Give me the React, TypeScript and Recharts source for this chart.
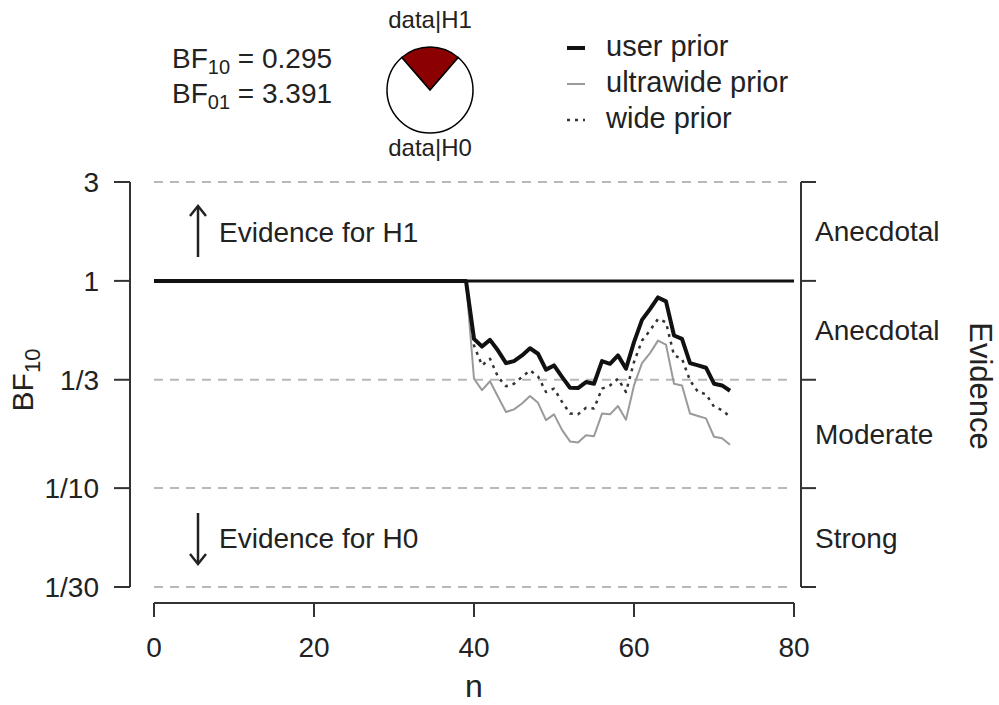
import React from 'react';
import { LineChart, Line, XAxis, YAxis, ReferenceLine, Legend, Label, PieChart, Pie, Cell } from 'recharts';

const FONT = '"Liberation Sans", Arial, Helvetica, sans-serif';
const TEXT = '#222';
const AXIS = '#333';

// ---- data ----
const sampleSizes = [0, 39, 40, 41, 42, 43, 44, 45, 46, 47, 48, 49, 50, 51, 52, 53, 54, 55, 56, 57, 58, 59, 60, 61, 62, 63, 64, 65, 66, 67, 68, 69, 70, 71, 72];
const userPrior = [1, 1, 0.525, 0.482, 0.519, 0.461, 0.401, 0.41, 0.437, 0.473, 0.445, 0.373, 0.391, 0.344, 0.305, 0.304, 0.325, 0.319, 0.41, 0.398, 0.437, 0.377, 0.506, 0.648, 0.731, 0.832, 0.796, 0.545, 0.525, 0.401, 0.391, 0.381, 0.319, 0.313, 0.295];
const ultrawidePrior = [1, 1, 0.337, 0.297, 0.328, 0.276, 0.233, 0.24, 0.256, 0.278, 0.258, 0.213, 0.227, 0.191, 0.168, 0.166, 0.18, 0.178, 0.229, 0.227, 0.249, 0.214, 0.313, 0.401, 0.448, 0.515, 0.493, 0.319, 0.313, 0.229, 0.223, 0.217, 0.177, 0.174, 0.162];
const widePrior = [1, 1, 0.488, 0.391, 0.421, 0.344, 0.31, 0.319, 0.344, 0.37, 0.346, 0.291, 0.302, 0.261, 0.229, 0.227, 0.244, 0.242, 0.302, 0.313, 0.337, 0.291, 0.406, 0.515, 0.576, 0.655, 0.631, 0.437, 0.421, 0.331, 0.291, 0.284, 0.247, 0.238, 0.221];

const xTicks = [0, 20, 40, 60, 80];
const yTicks = [1 / 30, 1 / 10, 1 / 3, 1, 3];
const yTickLabels = ['1/30', '1/10', '1/3', '1', '3'];
const evidenceLabels = ['Strong', 'Moderate', 'Anecdotal', 'Anecdotal'];
const bf10 = 0.295;
const bf01 = 3.391;
const pieNames = ['data|H1', 'data|H0'];
const pieValues = [bf10, 1];
const pieColors = ['#8b0000', '#ffffff'];

const series = [
  { key: 'ultrawide', name: 'ultrawide prior', stroke: '#9a9a9a', width: 2, dash: undefined as string | undefined },
  { key: 'wide', name: 'wide prior', stroke: '#333', width: 2.5, dash: '3 5' },
  { key: 'user', name: 'user prior', stroke: '#111', width: 4, dash: undefined as string | undefined },
];
const legendOrder = ['user', 'ultrawide', 'wide'];

const chartData = sampleSizes.map((n, i) => ({
  n,
  user: userPrior[i],
  ultrawide: ultrawidePrior[i],
  wide: widePrior[i],
}));

const evidenceTicks = yTicks.slice(0, -1).map((t, i) => Math.sqrt(t * yTicks[i + 1]));
const yDomain: [number, number] = [yTicks[0], yTicks[yTicks.length - 1]];
const pieData = pieNames.map((name, i) => ({ name, value: pieValues[i] }));
const pieTotal = pieValues.reduce((a, b) => a + b, 0);
const pieStart = 90 + 180 * (pieValues[0] / pieTotal);

const closestIndex = (arr: number[], v: number) => {
  let best = 0;
  arr.forEach((t, i) => {
    if (Math.abs(Math.log(t) - Math.log(v)) < Math.abs(Math.log(arr[best]) - Math.log(v))) best = i;
  });
  return best;
};

const renderLegend = () => (
  <svg width={260} height={110} style={{ overflow: 'visible' }}>
    {legendOrder.map((k, i) => {
      const s = series.find((x) => x.key === k)!;
      const cy = 20 + 36 * i;
      return (
        <g key={k}>
          <line x1={7} x2={25} y1={cy} y2={cy} stroke={s.stroke} strokeWidth={s.width} strokeDasharray={s.dash} />
          <text x={46} y={cy + 8} fontSize={29} fill={TEXT} fontFamily={FONT}>{s.name}</text>
        </g>
      );
    })}
  </svg>
);

const tickStyle = { fontSize: 28, fill: TEXT, fontFamily: FONT };

export default function App() {
  return (
    <div style={{ position: 'absolute', left: 0, top: 0, width: 999, height: 705, background: '#fff', fontFamily: FONT }}>
      <LineChart width={999} height={705} data={chartData} margin={{ top: 182, right: 205, bottom: 0, left: 154 }}>
        <XAxis
          dataKey="n"
          type="number"
          domain={[xTicks[0], xTicks[xTicks.length - 1]]}
          ticks={xTicks}
          interval={0}
          allowDataOverflow
          height={102}
          tickSize={14}
          tickMargin={20}
          axisLine={{ stroke: AXIS, strokeWidth: 2 }}
          tickLine={{ stroke: AXIS, strokeWidth: 2 }}
          tick={tickStyle}
        >
          <Label value="n" position="insideBottom" offset={8} style={{ fontSize: 32, fill: TEXT, fontFamily: FONT }} />
        </XAxis>
        <YAxis hide type="number" scale="log" domain={yDomain} allowDataOverflow padding={{ top: 0, bottom: 16 }} />
        {yTicks.filter((t) => t !== 1).map((t) => (
          <ReferenceLine key={t} y={t} stroke="#b8b8b8" strokeWidth={2} strokeDasharray="9 7" />
        ))}
        <ReferenceLine y={1} stroke="#111" strokeWidth={3} />
        {series.map((s) => (
          <Line
            key={s.key}
            dataKey={s.key}
            name={s.name}
            type="linear"
            stroke={s.stroke}
            strokeWidth={s.width}
            strokeDasharray={s.dash}
            strokeLinejoin="round"
            dot={false}
            activeDot={false}
            isAnimationActive={false}
          />
        ))}
        <Legend
          layout="vertical"
          align="center"
          verticalAlign="middle"
          wrapperStyle={{ left: 560, top: 28, width: 260, height: 110 }}
          content={renderLegend}
        />
      </LineChart>

      <div style={{ position: 'absolute', left: 0, top: 0, pointerEvents: 'none' }}>
        <LineChart width={999} height={705} data={chartData} margin={{ top: 182, right: 0, bottom: 118, left: 0 }}>
          <XAxis hide dataKey="n" type="number" domain={[xTicks[0], xTicks[xTicks.length - 1]]} />
          <YAxis
            yAxisId="a_bf"
            orientation="left"
            width={130}
            type="number"
            scale="log"
            domain={yDomain}
            allowDataOverflow
            ticks={yTicks}
            interval={0}
            tickFormatter={(v: number) => yTickLabels[closestIndex(yTicks, v)]}
            tickSize={16}
            tickMargin={15}
            axisLine={{ stroke: AXIS, strokeWidth: 2 }}
            tickLine={{ stroke: AXIS, strokeWidth: 2 }}
            tick={tickStyle}
          />
          <YAxis
            yAxisId="b_evidenceTicks"
            orientation="right"
            width={14}
            type="number"
            scale="log"
            domain={yDomain}
            allowDataOverflow
            ticks={yTicks}
            interval={0}
            tickFormatter={() => ''}
            tick={{ fontSize: 1, fill: 'none' }}
            tickSize={15}
            axisLine={{ stroke: AXIS, strokeWidth: 2 }}
            tickLine={{ stroke: AXIS, strokeWidth: 2 }}
          />
          <YAxis
            yAxisId="c_evidenceNames"
            orientation="right"
            width={184}
            type="number"
            scale="log"
            domain={yDomain}
            allowDataOverflow
            ticks={evidenceTicks}
            interval={0}
            tickFormatter={(v: number) => evidenceLabels[closestIndex(evidenceTicks, v)]}
            tickSize={0}
            tickMargin={0}
            axisLine={false}
            tickLine={false}
            tick={tickStyle}
          />
        </LineChart>
      </div>

      <div style={{ position: 'absolute', left: 380, top: 40, pointerEvents: 'none' }}>
        <PieChart width={100} height={100} margin={{ top: 0, right: 0, bottom: 0, left: 0 }}>
          <Pie
            data={pieData}
            dataKey="value"
            nameKey="name"
            cx={50}
            cy={50}
            outerRadius={43}
            innerRadius={0}
            startAngle={pieStart}
            endAngle={pieStart - 360}
            stroke="#000"
            strokeWidth={1.5}
            isAnimationActive={false}
            label={false}
            labelLine={false}
          >
            {pieData.map((d, i) => (
              <Cell key={d.name} fill={pieColors[i]} />
            ))}
          </Pie>
        </PieChart>
      </div>

      <svg width={999} height={705} style={{ position: 'absolute', left: 0, top: 0, pointerEvents: 'none' }} fontFamily={FONT} fill={TEXT}>
        <text x={172} y={68} fontSize={28}>
          BF<tspan fontSize={20} dy={6}>10</tspan>
          <tspan dy={-6}> = {bf10.toFixed(3)}</tspan>
        </text>
        <text x={172} y={103} fontSize={28}>
          BF<tspan fontSize={20} dy={6}>01</tspan>
          <tspan dy={-6}> = {bf01.toFixed(3)}</tspan>
        </text>
        <text x={430} y={28} fontSize={24} textAnchor="middle">{pieNames[0]}</text>
        <text x={430} y={156} fontSize={24} textAnchor="middle">{pieNames[1]}</text>

        <g stroke={TEXT} strokeWidth={2.5} fill="none">
          <line x1={198} y1={257} x2={198} y2={207} />
          <polyline points="190,216 198,206 206,216" />
          <line x1={198} y1={513} x2={198} y2={563} />
          <polyline points="190,554 198,564 206,554" />
        </g>
        <text x={219} y={242} fontSize={28}>Evidence for H1</text>
        <text x={219} y={548} fontSize={28}>Evidence for H0</text>

        <text x={33} y={380} fontSize={30} textAnchor="middle" transform="rotate(-90 33 380)">
          BF<tspan fontSize={22} dy={7}>10</tspan>
        </text>
        <text x={970} y={386} fontSize={31} textAnchor="middle" transform="rotate(90 970 386)">Evidence</text>
      </svg>
    </div>
  );
}
